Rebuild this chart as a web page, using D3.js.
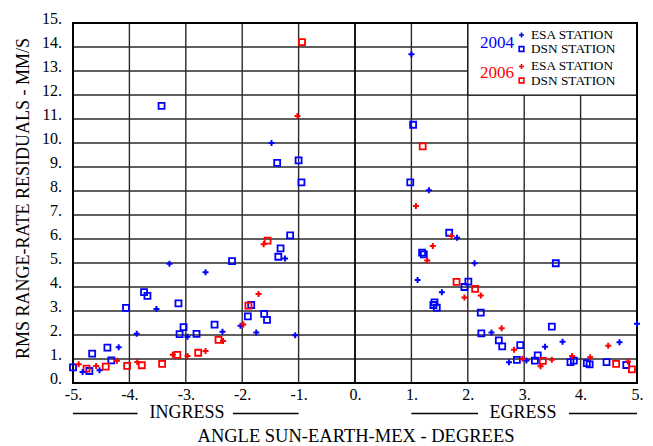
<!DOCTYPE html>
<html><head><meta charset="utf-8">
<script src="https://cdn.jsdelivr.net/npm/d3@7"></script>
<style>
html,body{margin:0;padding:0;background:#fff;}
svg{display:block;}
text{font-family:"Liberation Serif","Times New Roman",serif;}
</style></head>
<body>
<svg id="chart" width="653" height="446"></svg>
<script>
// ---- Data (angle in degrees, RMS residual in mm/s) ----
const esa2004 = [
  [-1.48,10.0],[-1.24,5.19],[-3.29,4.97],[-2.65,4.61],[-3.52,3.08],[-2.03,2.39],[-3.87,2.05],
  [-2.97,1.93],[-2.35,2.14],[-1.75,2.10],[-1.06,1.99],[-4.19,1.49],[-4.53,0.53],[-4.83,0.46],
  [1.0,13.7],[1.31,8.03],[1.81,6.05],[2.12,4.99],[1.11,4.29],[1.54,3.78],[2.42,2.10],
  [3.68,1.72],[3.37,1.51],[5.0,2.47],[4.69,1.70],[3.04,0.94],[2.73,0.86]
];
const dsn2004 = [
  [-3.43,11.55],[-1.38,9.17],[-1.0,9.28],[-0.95,8.36],[-1.15,6.15],[-1.32,5.61],[-1.36,5.26],
  [-2.18,5.08],[-3.74,3.79],[-3.68,3.63],[-4.06,3.13],[-3.13,3.32],[-1.84,3.25],[-1.90,2.78],
  [-1.61,2.88],[-1.56,2.63],[-2.49,2.43],[-3.04,2.33],[-3.11,2.04],[-2.81,2.05],[-4.39,1.47],
  [-4.66,1.22],[-4.32,0.94],[-5.0,0.65],[-4.71,0.50],
  [1.03,10.76],[0.98,8.36],[1.67,6.26],[1.19,5.43],[1.22,5.36],[3.56,4.99],[2.01,4.22],
  [1.94,4.0],[1.41,3.36],[1.39,3.25],[1.45,3.14],[2.23,2.93],[3.49,2.35],[2.24,2.07],
  [2.55,1.78],[2.61,1.53],[2.93,1.58],[3.24,1.15],[2.87,0.96],[3.19,0.93],[3.82,0.87],
  [3.88,0.93],[4.11,0.83],[4.16,0.78],[4.46,0.87],[4.81,0.75]
];
const esa2006 = [
  [-1.02,11.13],[-1.62,5.78],[-1.71,3.71],[-1.98,2.44],[-2.34,1.75],[-2.65,1.33],[-3.23,1.18],
  [-2.97,1.13],[-4.22,0.93],[-3.86,0.88],[-4.59,0.71],[-4.90,0.78],
  [1.08,7.38],[1.71,6.13],[1.38,5.71],[1.28,5.10],[2.23,3.65],[1.94,3.56],[2.60,2.28],
  [2.82,1.39],[4.49,1.55],[2.97,1.01],[3.29,0.70],[3.49,0.97],[3.85,1.12],[4.17,1.07],[4.84,0.90]
];
const dsn2006 = [
  [-0.94,14.2],[-1.55,5.93],[-1.89,3.22],[-2.42,1.80],[-2.78,1.26],[-3.15,1.17],[-3.78,0.74],
  [-4.04,0.71],[-3.42,0.80],[-4.42,0.68],[-4.76,0.60],
  [1.20,9.86],[1.80,4.21],[2.13,3.92],[3.33,0.92],[4.63,0.80],[4.91,0.57]
];
const xTicks = [-5,-4,-3,-2,-1,0,1,2,3,4,5];
const yTicks = [0,1,2,3,4,5,6,7,8,9,10,11,12,13,14,15];
const legendYears = ["2004","2006"];
const legendNames = ["ESA STATION","DSN STATION"];
const xTitle = "ANGLE SUN-EARTH-MEX - DEGREES";
const yTitle = "RMS RANGE-RATE RESIDUALS - MM/S";
const phaseLabels = ["INGRESS","EGRESS"];

// ---- Layout ----
const svg = d3.select("#chart");
const L = 73, R = 637, T = 23, B = 383;
const x = d3.scaleLinear().domain([-5,5]).range([L,R]);
const y = d3.scaleLinear().domain([0,15]).range([B,T]);
const fmt = d => (d < 0 ? "-" : "") + Math.abs(d) + ".";
const BLUE = "#0000ff", RED = "#ff0000";

// grid
const g = svg.append("g");
g.selectAll("line.h").data(yTicks).join("line")
  .attr("x1",L).attr("x2",R).attr("y1",d=>y(d)).attr("y2",d=>y(d))
  .attr("stroke","#2a2a2a").attr("stroke-width",1.4);
g.selectAll("line.v").data(xTicks).join("line")
  .attr("y1",T).attr("y2",B).attr("x1",d=>x(d)).attr("x2",d=>x(d))
  .attr("stroke",d=>d===0?"#000":"#2a2a2a").attr("stroke-width",d=>d===0?1.8:1.4);

// legend box (covers grid)
const lg = svg.append("g");
lg.append("rect").attr("x",468).attr("y",T).attr("width",R-468).attr("height",72)
  .attr("fill","#fff").attr("stroke","#000").attr("stroke-width",1);

// frame
svg.append("rect").attr("x",L).attr("y",T).attr("width",R-L).attr("height",B-T)
  .attr("fill","none").attr("stroke","#000").attr("stroke-width",2);

// axes (labels only)
const ax = svg.append("g").attr("transform",`translate(0,${B})`)
  .call(d3.axisBottom(x).tickValues(xTicks).tickFormat(fmt).tickSize(0));
ax.select(".domain").remove();
ax.selectAll("text").attr("y",17).attr("dy","0").attr("font-size",16)
  .attr("font-family","Liberation Serif").attr("fill","#000");

const ay = svg.append("g").attr("transform",`translate(${L},0)`)
  .call(d3.axisLeft(y).tickValues(yTicks).tickFormat(fmt).tickSize(0).tickPadding(11));
ay.select(".domain").remove();
ay.selectAll("text").attr("dy","0.02em").attr("font-size",16)
  .attr("font-family","Liberation Serif").attr("fill","#000");

// markers
const cross = d3.symbol(d3.symbolCross, 20);
const square = d3.symbol(d3.symbolSquare, 36);
function squares(data,color){
  svg.append("g").selectAll("path").data(data).join("path")
    .attr("d",square).attr("transform",d=>`translate(${x(d[0])},${y(d[1])})`)
    .attr("fill","none").attr("stroke",color).attr("stroke-width",1.8);
}
function crosses(data,color){
  svg.append("g").selectAll("path").data(data).join("path")
    .attr("d",cross).attr("transform",d=>`translate(${x(d[0])},${y(d[1])})`)
    .attr("fill",color);
}
squares(dsn2004,BLUE);
squares(dsn2006,RED);
crosses(esa2004,BLUE);
crosses(esa2006,RED);

// legend content
const legRows = [
  {year:legendYears[0], color:BLUE, yb:48, y1:35, y2:49, t1:39, t2:53},
  {year:legendYears[1], color:RED,  yb:78, y1:66.5, y2:80.5, t1:70, t2:85}
];
legRows.forEach(r=>{
  lg.append("text").attr("x",480).attr("y",r.yb).attr("font-size",17)
    .attr("fill",r.color).text(r.year);
  lg.append("path").attr("d",d3.symbol(d3.symbolCross,14)())
    .attr("transform",`translate(521.5,${r.y1})`).attr("fill",r.color);
  lg.append("path").attr("d",d3.symbol(d3.symbolSquare,22)())
    .attr("transform",`translate(521.5,${r.y2})`).attr("fill","none")
    .attr("stroke",r.color).attr("stroke-width",1.6);
  lg.append("text").attr("x",531).attr("y",r.t1).attr("font-size",13.3).text(legendNames[0]);
  lg.append("text").attr("x",531).attr("y",r.t2).attr("font-size",13.3).text(legendNames[1]);
});

// ingress / egress labels with rules
const phase = [
  {label:phaseLabels[0], cx:187, l1:[x(-5),137.5], l2:[233,x(-1)]},
  {label:phaseLabels[1], cx:523, l1:[x(1),478], l2:[569,x(5)]}
];
phase.forEach(p=>{
  svg.append("text").attr("x",p.cx).attr("y",418).attr("text-anchor","middle")
    .attr("font-size",18).text(p.label);
  [p.l1,p.l2].forEach(l=>svg.append("line").attr("x1",l[0]).attr("x2",l[1])
    .attr("y1",413.5).attr("y2",413.5).attr("stroke","#000").attr("stroke-width",1.5));
});

// axis titles
svg.append("text").attr("x",x(0)+1).attr("y",442).attr("text-anchor","middle")
  .attr("font-size",18.5).text(xTitle);
svg.append("text").attr("transform","translate(29,198.5) rotate(-90)")
  .attr("text-anchor","middle").attr("font-size",18).text(yTitle);
</script>
</body></html>
